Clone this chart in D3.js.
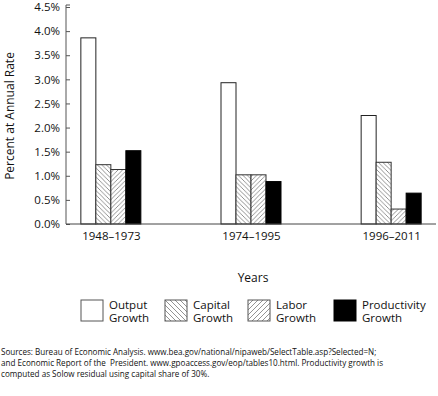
<!DOCTYPE html>
<html><head><meta charset="utf-8">
<script src="https://cdn.jsdelivr.net/npm/d3@7"></script>
<style>body{margin:0;background:#fff}svg{font-family:"Open Sans",sans-serif;display:block}</style>
</head><body><svg id="c" width="438" height="396"></svg>
<script>
const categories = ["1948–1973", "1974–1995", "1996–2011"];
const seriesKeys = ["output", "capital", "labor", "productivity"];
const legendLines = [["Output", "Growth"], ["Capital", "Growth"], ["Labor", "Growth"], ["Productivity", "Growth"]];
const outputGrowth = [3.86, 2.93, 2.25];
const capitalGrowth = [1.23, 1.02, 1.28];
const laborGrowth = [1.13, 1.02, 0.31];
const productivityGrowth = [1.52, 0.88, 0.64];
const yTicks = [0, 0.5, 1.0, 1.5, 2.0, 2.5, 3.0, 3.5, 4.0, 4.5];
const yTitle = "Percent at Annual Rate";
const xTitle = "Years";
const sourceLines = [
  "Sources: Bureau of Economic Analysis. www.bea.gov/national/nipaweb/SelectTable.asp?Selected=N;",
  "and Economic Report of the  President. www.gpoaccess.gov/eop/tables10.html. Productivity growth is",
  "computed as Solow residual using capital share of 30%."
];

const seriesValues = [outputGrowth, capitalGrowth, laborGrowth, productivityGrowth];
const svg = d3.select("#c");
const defs = svg.append("defs");
function hatch(id, dir, size) {
  const p = defs.append("pattern").attr("id", id).attr("patternUnits", "userSpaceOnUse")
    .attr("width", size).attr("height", size);
  p.append("rect").attr("width", size).attr("height", size).attr("fill", "#fff");
  const d = dir === "back"
    ? `M0,0L${size},${size}M${-size},0L${size},${size*2}M0,${-size}L${size*2},${size}`
    : `M0,${size}L${size},0M${-size},${size}L${size},${-size}M0,${size*2}L${size*2},0`;
  p.append("path").attr("d", d).attr("stroke", "#777").attr("stroke-width", 0.8).attr("fill", "none");
}
hatch("capPat", "back", 4.5);
hatch("labPat", "fwd", 4.5);
hatch("capPatL", "back", 5);
hatch("labPatL", "fwd", 5);
const fills = ["#fff", "url(#capPat)", "url(#labPat)", "#000"];
const legendFills = ["#fff", "url(#capPatL)", "url(#labPatL)", "#000"];
const strokes = ["#222", "#333", "#333", "#000"];

const x0 = 66, x1 = 436, yBase = 224, yTop = 7;
const x = d3.scalePoint().domain(categories).range([x0, x1]).padding(0.32);
const xs = d3.scaleBand().domain(seriesKeys).range([-30, 30]).padding(0);
const y = d3.scaleLinear().domain([0, 4.5]).range([yBase, yTop]);

// bars
seriesKeys.forEach((k, si) => {
  svg.append("g").selectAll("rect").data(seriesValues[si]).join("rect")
    .attr("x", (d, i) => x(categories[i]) + xs(k))
    .attr("y", d => y(d))
    .attr("width", xs.bandwidth())
    .attr("height", d => yBase - y(d))
    .attr("fill", fills[si])
    .attr("stroke", strokes[si]).attr("stroke-width", 1);
});

// y axis
const yAxis = d3.axisRight(y).tickValues(yTicks).tickSize(4).tickFormat(d => d.toFixed(1) + "%");
const gy = svg.append("g").attr("transform", `translate(${x0},0)`).call(yAxis);
gy.select(".domain").attr("stroke", "#555").attr("d", `M4,${yTop - 2}H0V${yBase}`);
gy.selectAll(".tick line").attr("stroke", "#555");
gy.selectAll(".tick text").attr("x", -6).attr("text-anchor", "end")
  .attr("font-size", 11.5).attr("fill", "#111").attr("font-family", "Open Sans");

// x axis
const xAxis = d3.axisBottom(x).tickSize(0).tickPadding(8);
const gx = svg.append("g").attr("transform", `translate(0,${yBase})`).call(xAxis);
gx.select(".domain").attr("stroke", "#444").attr("d", `M${x0},0H${x1}`);
gx.selectAll(".tick text").attr("font-size", 11.5).attr("fill", "#111").attr("font-family", "Open Sans");

// titles
svg.append("text").attr("transform", "translate(14,116) rotate(-90)").attr("text-anchor", "middle")
  .attr("font-size", 12).attr("fill", "#111").text(yTitle);
svg.append("text").attr("x", 253).attr("y", 282).attr("text-anchor", "middle")
  .attr("font-size", 12).attr("fill", "#111").text(xTitle);

// legend
const legendX = [81, 165, 248, 334];
seriesKeys.forEach((k, i) => {
  const g = svg.append("g").attr("transform", `translate(${legendX[i]},300)`);
  g.append("rect").attr("width", 22).attr("height", 21).attr("fill", legendFills[i])
    .attr("stroke", i === 3 ? "#000" : "#555").attr("stroke-width", 1);
  legendLines[i].forEach((t, j) => {
    g.append("text").attr("x", 28).attr("y", 9 + j * 13).attr("font-size", 11.5).attr("fill", "#111").text(t);
  });
});

// sources
sourceLines.forEach((t, i) => {
  svg.append("text").attr("x", 1).attr("y", 355 + i * 11).attr("font-size", 8.1)
    .attr("fill", "#111").attr("xml:space", "preserve").style("white-space", "pre").text(t);
});
</script></body></html>
